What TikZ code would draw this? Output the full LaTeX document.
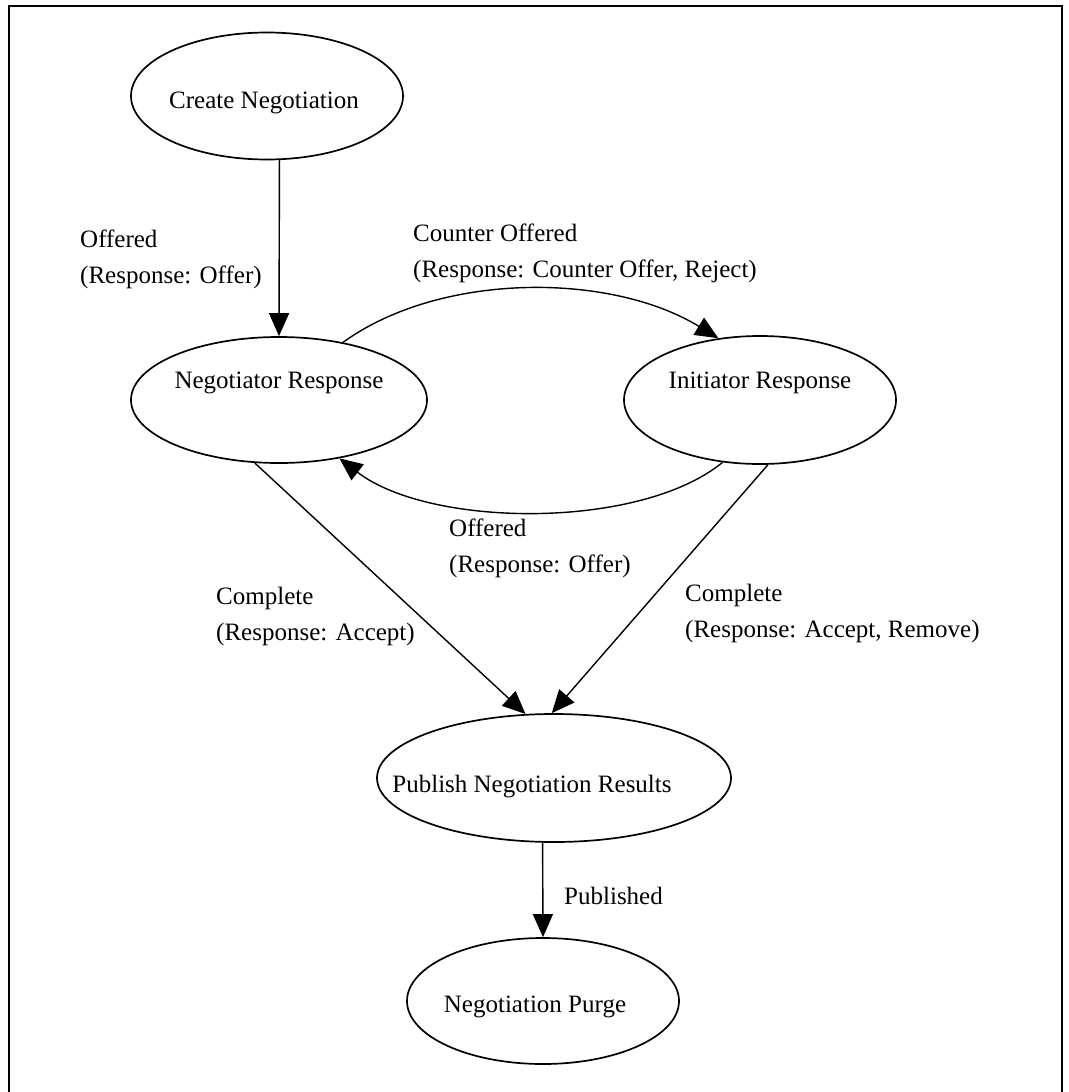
\documentclass[tikz,border=0pt]{standalone}
\usepackage{fontspec}
\setmainfont{Liberation Serif}
\usetikzlibrary{shapes.geometric,arrows.meta}
\tikzset{
  st/.style={ellipse, draw, line width=1.7pt, inner sep=0pt},
  txt/.style={inner sep=0pt, font=\fontsize{25}{36}\selectfont},
  arr/.style={line width=1.4pt, -{Triangle[length=23pt,width=20pt]}},
  lbl/.style={anchor=north west, inner sep=0pt, align=left, font=\fontsize{25}{36}\selectfont},
}
\begin{document}
\begin{tikzpicture}[x=1pt,y=-1pt]
\useasboundingbox (0,0) rectangle (1068,1092);
\draw[line width=2pt] (9,1100) -- (9,6) -- (1062,6) -- (1062,1100);

\node[st, minimum width=272pt, minimum height=127pt] (create) at (267,96) {};
\node[txt] (createT) at (264,103) {Create Negotiation};
\node[st, minimum width=296pt, minimum height=126pt] (neg) at (279,400) {};
\node[txt] (negT) at (279,383) {Negotiator Response};
\node[st, minimum width=272pt, minimum height=128pt] (ini) at (760,400) {};
\node[txt] (iniT) at (760,383) {Initiator Response};
\node[st, minimum width=354pt, minimum height=128pt] (pub) at (554,778) {};
\node[txt] (pubT) at (532,787) {Publish Negotiation Results};
\node[st, minimum width=272pt, minimum height=126pt] (purge) at (543,1001) {};
\node[txt] (purgeT) at (535,1007) {Negotiation Purge};

\draw[arr] (create.-79) -- (neg.north);
\draw[arr] (neg.42) .. controls (440,272) and (610,272) .. (ini.124);
\draw[arr] (ini.-121) .. controls (640,530) and (430,528) .. (neg.-44);
\draw[arr] (neg.-111) -- (pub.114);
\draw[arr] (ini.-83) -- (pub.92);
\draw[arr] (pub.-100.6) -- (purge.north);

\node[lbl] (l1) at (80,230) {Offered\\(Response: Offer)};
\node[lbl] (l2) at (413,224) {Counter Offered\\(Response: Counter Offer, Reject)};
\node[lbl] (l3) at (449,519) {Offered\\(Response: Offer)};
\node[lbl] (l4) at (216,587) {Complete\\(Response: Accept)};
\node[lbl] (l5) at (685,584) {Complete\\(Response: Accept, Remove)};
\node[lbl] (l6) at (564,887) {Published};
\end{tikzpicture}
\end{document}
